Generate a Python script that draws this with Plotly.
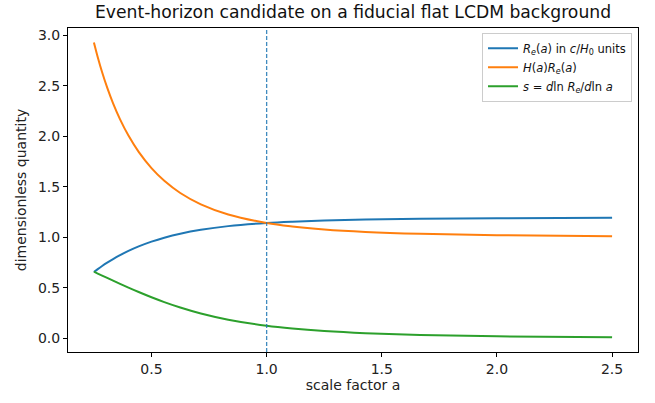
import plotly.graph_objects as go

a_vals = [0.25, 0.2667, 0.2857, 0.3077, 0.3333, 0.3636, 0.4, 0.4444, 0.5, 0.5556, 0.625, 0.7143,
          0.8333, 1.0, 1.1111, 1.25, 1.4286, 1.6667, 2.0, 2.5]
R_e = [0.6562, 0.6843, 0.7147, 0.7477, 0.7834, 0.8221, 0.8639, 0.9086, 0.9561, 0.9953, 1.0349, 1.0735,
       1.1095, 1.1407, 1.1539, 1.1652, 1.1746, 1.1819, 1.1874, 1.1912]
HR_e = [2.9271, 2.7812, 2.6320, 2.4795, 2.3239, 2.1655, 2.0051, 1.8437, 1.6833, 1.5578, 1.4373, 1.3249,
        1.2247, 1.1407, 1.1060, 1.0765, 1.0525, 1.0336, 1.0197, 1.0102]
s_vals = [0.6584, 0.6404, 0.6201, 0.5967, 0.5697, 0.5382, 0.5013, 0.4576, 0.4059, 0.3581, 0.3043, 0.2452,
          0.1835, 0.1233, 0.0958, 0.0711, 0.0498, 0.0325, 0.0193, 0.0101]
a_today = 1.0

x_ticks = [0.5, 1.0, 1.5, 2.0, 2.5]
y_ticks = [0.0, 0.5, 1.0, 1.5, 2.0, 2.5, 3.0]

names = [
    "<i>R</i><sub><i>e</i></sub>(<i>a</i>) in <i>c</i>/<i>H</i><sub>0</sub> units",
    "<i>H</i>(<i>a</i>)<i>R</i><sub><i>e</i></sub>(<i>a</i>)",
    "<i>s</i> = <i>d</i>ln <i>R</i><sub><i>e</i></sub>/<i>d</i>ln <i>a</i>",
]
colors = ["#1f77b4", "#ff7f0e", "#2ca02c"]

fig = go.Figure()
for ys, nm, c in zip([R_e, HR_e, s_vals], names, colors):
    fig.add_trace(go.Scatter(x=a_vals, y=ys, mode="lines", name=nm,
                             line=dict(color=c, width=2, shape="spline", smoothing=1.0)))

fig.add_shape(type="line", x0=a_today, x1=a_today, y0=0, y1=1, xref="x", yref="paper",
              line=dict(color="rgba(31,119,180,0.85)", width=1.3, dash="4px,2px"))

axis_common = dict(showline=True, linecolor="black", linewidth=1, mirror=True,
                   ticks="outside", ticklen=4, tickcolor="black", showgrid=False,
                   zeroline=False, automargin=False, tickfont=dict(size=14, color="#222"))

fig.update_layout(
    width=655, height=403,
    margin=dict(l=68, r=17, t=28, b=51),
    paper_bgcolor="white", plot_bgcolor="white",
    font=dict(family="DejaVu Sans", color="#222"),
    title=dict(text="Event-horizon candidate on a fiducial flat LCDM background",
               xref="paper", x=0.5, xanchor="center", y=0.970, yanchor="middle",
               font=dict(size=17.2, color="#111")),
    xaxis=dict(range=[0.1375, 2.6125], tickvals=x_ticks, ticktext=[f"{v:.1f}" for v in x_ticks],
               title=dict(text="scale factor a", font=dict(size=14), standoff=4), **axis_common),
    yaxis=dict(range=[-0.136, 3.07], tickvals=y_ticks, ticktext=[f"{v:.1f}" for v in y_ticks],
               title=dict(text="dimensionless quantity", font=dict(size=14), standoff=8), **axis_common),
    legend=dict(x=0.9895, y=0.985, xanchor="right", yanchor="top", bgcolor="rgba(255,255,255,0.8)",
                bordercolor="#cccccc", borderwidth=1, font=dict(size=11.5, color="#111"),
                tracegroupgap=0, itemwidth=30),
    showlegend=True,
)

fig.write_html("out.html", config={"displayModeBar": False},
               post_script="document.body.style.margin='0';")
